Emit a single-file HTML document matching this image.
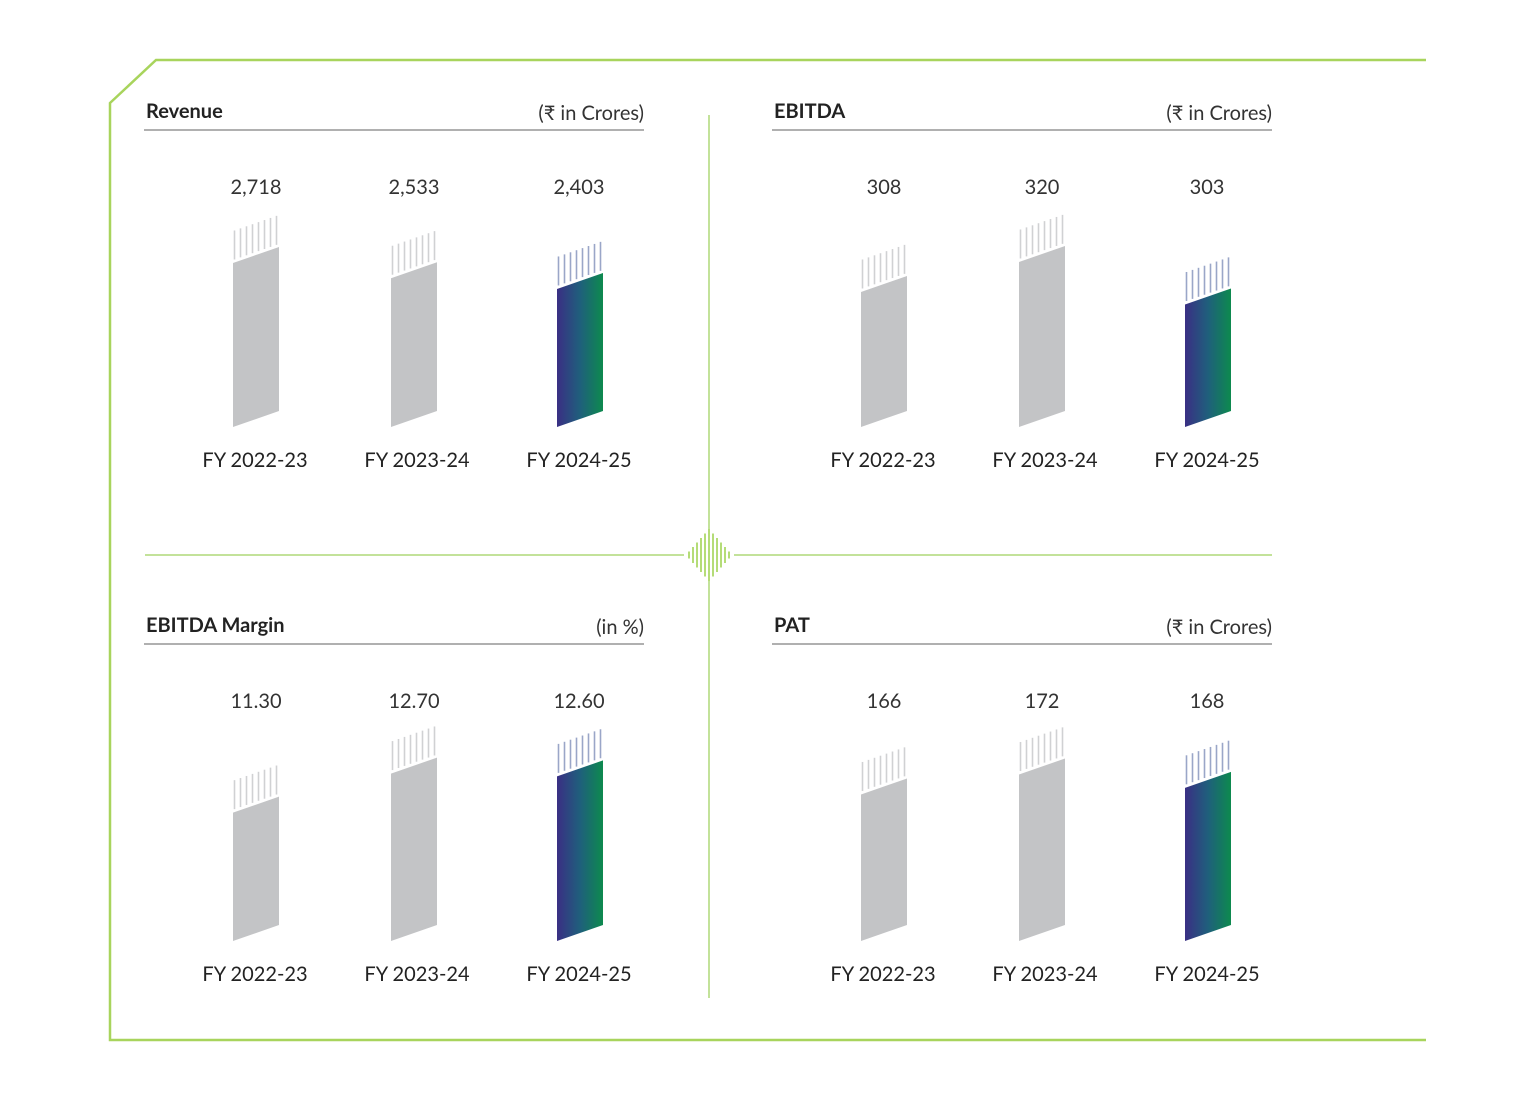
<!DOCTYPE html>
<html><head><meta charset="utf-8">
<style>
html,body{margin:0;padding:0;background:#fff;}
svg{display:block;font-family:"Lato","Liberation Sans",sans-serif;}
</style></head>
<body>
<svg id="chart" width="1536" height="1100" viewBox="0 0 1536 1100" xmlns="http://www.w3.org/2000/svg">
<defs>
<linearGradient id="grad" x1="0" x2="1" y1="0" y2="0">
<stop offset="0" stop-color="#3a2f84"/><stop offset="0.5" stop-color="#1f5f7c"/><stop offset="1" stop-color="#0d8a4e"/>
</linearGradient>
</defs>
<path d="M1426 60 L156 60 L110 103 L110 1040 L1426 1040" fill="none" stroke="#a8d45c" stroke-width="2.5"/>
<line x1="709" y1="115" x2="709" y2="998" stroke="#c3e29a" stroke-width="2"/>
<line x1="145" y1="555" x2="684" y2="555" stroke="#c3e29a" stroke-width="2"/>
<line x1="734" y1="555" x2="1272" y2="555" stroke="#c3e29a" stroke-width="2"/>
<g id="ornament"></g>
<g id="panels"></g>
</svg>
<script>
const categories = ["FY 2022-23","FY 2023-24","FY 2024-25"];
const revenueValues = [2718, 2533, 2403];
const revenueLabels = ["2,718","2,533","2,403"];
const ebitdaValues = [308, 320, 303];
const ebitdaLabels = ["308","320","303"];
const marginValues = [11.30, 12.70, 12.60];
const marginLabels = ["11.30","12.70","12.60"];
const patValues = [166, 172, 168];
const patLabels = ["166","172","168"];

const NS="http://www.w3.org/2000/svg";
function mk(tag, attrs, parent){const e=document.createElementNS(NS,tag);for(const k in attrs)e.setAttribute(k,attrs[k]);parent.appendChild(e);return e;}

// ornament
const orn=document.getElementById('ornament');
for(let i=-5;i<=5;i++){
  const h=26-Math.abs(i)*4.5;
  const l=mk('line',{x1:709+i*4,x2:709+i*4,y1:555-h,y2:555+h,stroke:'#b5dc78','stroke-width':2},orn);
  
  
}

const panels=[
 {title:"Revenue",unit:"(₹ in Crores)",ox:0,oy:0,vals:revenueValues,labs:revenueLabels,d0:730,k:0.0825,key:"revenue"},
 {title:"EBITDA",unit:"(₹ in Crores)",ox:628,oy:0,vals:ebitdaValues,labs:ebitdaLabels,d0:254,k:2.5,key:"ebitda"},
 {title:"EBITDA Margin",unit:"(in %)",ox:0,oy:514,vals:marginValues,labs:marginLabels,d0:6.7,k:27.9,key:"ebitda-margin"},
 {title:"PAT",unit:"(₹ in Crores)",ox:628,oy:514,vals:patValues,labs:patLabels,d0:122,k:3.33,key:"pat"}
];
const barX=[233,391,557];
const valX=[256,414,579];
const catX=[255,417,579];
const root=document.getElementById('panels');
panels.forEach(p=>{
  const g=mk('g',{},root);
  
  
  const t=mk('text',{x:146+p.ox,y:118+p.oy,'font-size':20,'font-weight':'bold',fill:'#222'},g);
  t.textContent=p.title;
  
  
  const u=mk('text',{x:644+p.ox,y:120+p.oy,'font-size':20,fill:'#333','text-anchor':'end'},g);
  u.textContent=p.unit;
  
  
  const rl=mk('line',{x1:144+p.ox,x2:644+p.ox,y1:130+p.oy,y2:130+p.oy,stroke:'#b0b0b0','stroke-width':2},g);
  
  
  const base=427+p.oy;
  const y=v=>base-(v-p.d0)*p.k;
  p.vals.forEach((v,i)=>{
    const x0=barX[i]+p.ox, w=46, s=16;
    const top=y(v);
    const col=i===2;
    const b=mk('path',{d:`M${x0} ${base} L${x0+w} ${base-s} L${x0+w} ${top-s} L${x0} ${top} Z`,fill:col?'url(#grad)':'#c3c4c6'},g);
    
    
    for(let j=0;j<8;j++){
      const lx=x0+1.5+j*(w-4)/7;
      const off=s*(lx-x0)/w;
      const hl=mk('line',{x1:lx,x2:lx,y1:top-3-off,y2:top-32-off,stroke:col?'#9aa6c8':'#d0d1d3','stroke-width':1.6},g);
      
      
    }
    const vt=mk('text',{x:valX[i]+p.ox,y:194+p.oy,'font-size':20,fill:'#333','text-anchor':'middle'},g);
    vt.textContent=p.labs[i];
    
    
    const ct=mk('text',{x:catX[i]+p.ox,y:467+p.oy,'font-size':20,fill:'#222','text-anchor':'middle'},g);
    ct.textContent=categories[i];
    
    
  });
});
</script>
</body></html>
